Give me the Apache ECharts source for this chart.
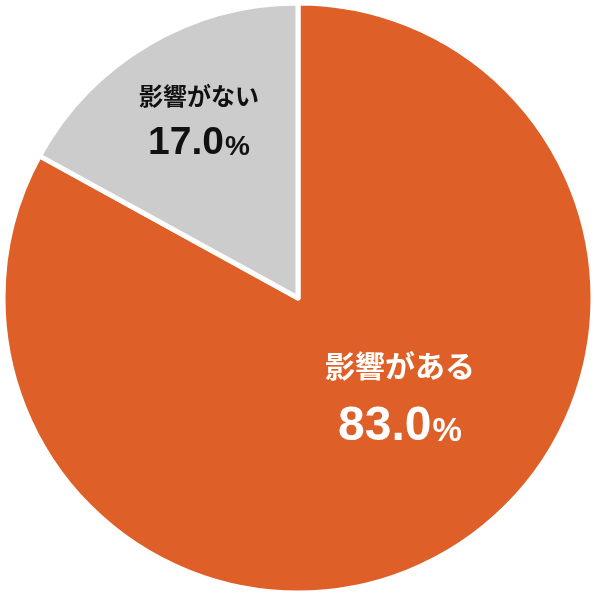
<!DOCTYPE html>
<html>
<head>
<meta charset="utf-8">
<script src="https://cdn.jsdelivr.net/npm/echarts@6/dist/echarts.min.js"></script>
<style>
html,body{margin:0;padding:0;background:#fff;}
#chart{width:596px;height:596px;}
</style>
</head>
<body>
<div id="chart"></div>
<script>
const categories = ['影響がある', '影響がない'];
const values = [83.0, 17.0];
const colors = ['#DE5F27', '#CCCCCC'];

const chart = echarts.init(document.getElementById('chart'), null, {renderer: 'canvas'});

const labelStyles = [
  { // 影響がある
    rich: {
      name: {fontFamily: '"Noto Sans CJK JP", sans-serif', fontWeight: 'bold', fontSize: 30, lineHeight: 58, color: '#ffffff'},
      val: {fontFamily: '"Liberation Sans", Arial, sans-serif', fontWeight: 'bold', fontSize: 48, lineHeight: 64, color: '#ffffff'},
      pct: {fontFamily: '"Liberation Sans", Arial, sans-serif', fontWeight: 'bold', fontSize: 33, lineHeight: 64, color: '#ffffff', verticalAlign: 'middle', padding: [10, 0, 0, 1]}
    },
    pos: [400, 398]
  },
  { // 影響がない
    rich: {
      name: {fontFamily: '"Noto Sans CJK JP", sans-serif', fontWeight: 'bold', fontSize: 24, lineHeight: 44, color: '#111111'},
      val: {fontFamily: '"Liberation Sans", Arial, sans-serif', fontWeight: 'bold', fontSize: 39, lineHeight: 50, color: '#111111'},
      pct: {fontFamily: '"Liberation Sans", Arial, sans-serif', fontWeight: 'bold', fontSize: 28, lineHeight: 50, color: '#111111', verticalAlign: 'middle', padding: [8, 0, 0, 1]}
    },
    pos: [199, 121]
  }
];

const data = categories.map((c, i) => ({
  name: c,
  value: values[i],
  itemStyle: {color: colors[i]},
  label: {
    show: true,
    position: 'inside',
    align: 'center',
    verticalAlign: 'middle',
    formatter: p => '{name|' + p.name + '}\n{val|' + p.value.toFixed(1) + '}{pct|%}',
    rich: labelStyles[i].rich
  }
}));

chart.setOption({
  animation: false,
  backgroundColor: '#ffffff',
  series: [{
    type: 'pie',
    center: ['50%', '50%'],
    radius: [0, 295],
    startAngle: 90,
    clockwise: true,
    avoidLabelOverlap: false,
    itemStyle: {borderColor: '#ffffff', borderWidth: 5},
    labelLine: {show: false},
    emphasis: {disabled: true},
    labelLayout: p => ({x: labelStyles[p.dataIndex].pos[0], y: labelStyles[p.dataIndex].pos[1], align: 'center', verticalAlign: 'middle'}),
    data: data
  }]
});
</script>
</body>
</html>
